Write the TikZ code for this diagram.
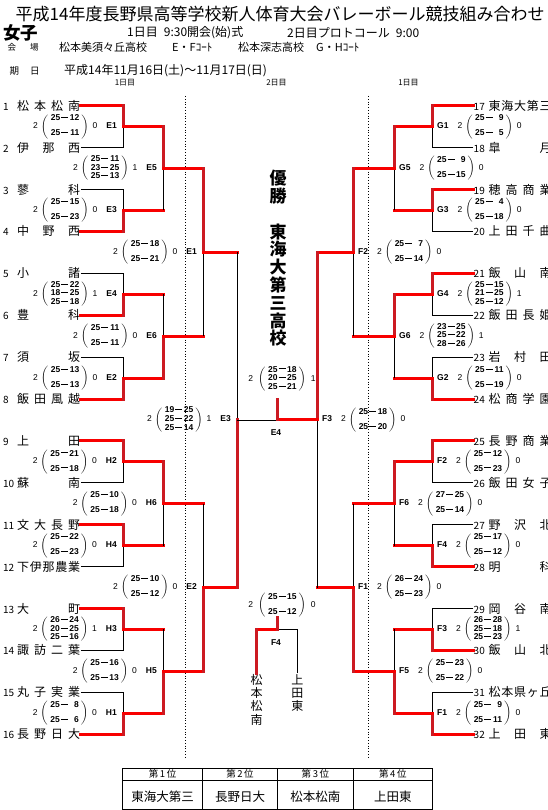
\documentclass[tikz,border=0pt]{standalone}
\usepackage{fontspec}
\setmainfont{Noto Sans CJK JP}
\newfontfamily\numfont{Liberation Sans}
\usetikzlibrary{positioning}
\definecolor{winred}{HTML}{F80000}
\definecolor{winvred}{HTML}{CC1A22}

% set scores
\newcommand{\pts}[2]{{\bfseries\makebox[10pt][r]{#1}\kern1pt\rule[2.7pt]{7pt}{0.9pt}\kern1pt\makebox[10pt][r]{#2}}}
\newcommand{\twoset}[2]{$\left(\begin{tabular}{@{\hspace{2pt}}c@{\hspace{2pt}}}#1\\[6.3pt]#2\end{tabular}\right)$}
\newcommand{\threeset}[3]{$\left(\begin{tabular}{@{\hspace{2pt}}c@{\hspace{2pt}}}#1\\#2\\#3\end{tabular}\right)$}
% spread a school name over its box
\def\spreadnext#1#2{#1\ifx\relax#2\else\hfill\expandafter\spreadnext\expandafter#2\fi}
\newcommand{\jname}[1]{\makebox[63pt][s]{\expandafter\spreadnext#1\relax}}
% first round: bout, upper team, lower team, winner (1 upper, 2 lower)
\newcommand{\teambout}[4]{%
  \ifnum#4=1 \draw[lose] (#3) -| (#1); \draw[win] (#2) -- (#2 -| #1); \draw[winv] (#2 -| #1) -- (#1);
  \else \draw[lose] (#2) -| (#1); \draw[win] (#3) -- (#3 -| #1); \draw[winv] (#3 -| #1) -- (#1); \fi}
% later rounds: bout, upper bout, lower bout, winner
\newcommand{\nextbout}[4]{%
  \draw[win] (#2) -- (#2 -| #1); \draw[win] (#3) -- (#3 -| #1);
  \ifnum#4=1 \draw[lose] (#3 -| #1) -- (#1); \draw[winv] (#2 -| #1) -- (#1);
  \else \draw[lose] (#2 -| #1) -- (#1); \draw[winv] (#3 -| #1) -- (#1); \fi}
% results: bout, label, sets won, sets lost, scores
\newcommand{\lres}[5]{\node[res, anchor=east] (s#1) at ([xshift=-6pt]#1) {#3\hspace{3pt}#5\hspace{4pt}#4\hspace{9pt}\textbf{#2}};}
\newcommand{\rres}[5]{\node[res, anchor=west] (s#1) at ([xshift=5pt]#1) {\textbf{#2}\hspace{9pt}#3\hspace{3pt}#5\hspace{4pt}#4};}

\begin{document}
\begin{tikzpicture}[x=1pt, y=-1pt,
  win/.style={draw=winred, line width=3pt, line cap=rect},
  winv/.style={draw=winvred, line width=3pt, line cap=rect},
  lose/.style={draw=black, line width=0.9pt},
  team/.style={inner xsep=0.5pt, inner ysep=0pt, font=\fontsize{12}{12}\selectfont},
  res/.style={inner sep=0pt, font=\numfont\fontsize{8.5}{8.7}\selectfont},
  lab/.style={inner sep=0pt, font=\numfont\bfseries\fontsize{8.5}{8.7}\selectfont},
  champ/.style={align=center, inner sep=0pt, font=\bfseries\fontsize{17}{17.8}\selectfont},
  vname/.style={align=center, inner sep=1pt, font=\fontsize{12}{13.3}\selectfont},
  head/.style={anchor=west, inner sep=0pt}]
\useasboundingbox (0,0) rectangle (548,810);

% header
\node[head, font=\fontsize{17}{17}\selectfont] (title) at (15.5,14) {平成14年度長野県高等学校新人体育大会バレーボール競技組み合わせ};
\node[head, font=\bfseries\fontsize{17.5}{17.5}\selectfont] (girls) at (3,33) {女子};
\node[head, font=\fontsize{12}{12}\selectfont] (day1) at (127,33) {1日目\hspace{6pt}9:30開会(始)式};
\node[head, font=\fontsize{12}{12}\selectfont] (day2) at (287,33) {2日目プロトコール\hspace{6pt}9:00};
\node[head, font=\fontsize{8.5}{8.5}\selectfont] (venue) at (7.5,47) {会\hspace{14pt}場};
\node[head, font=\fontsize{11}{11}\selectfont] (ven1) at (59,47) {松本美須々丘高校};
\node[head, font=\fontsize{11}{11}\selectfont] (crt1) at (172,47) {E・Fｺｰﾄ};
\node[head, font=\fontsize{11}{11}\selectfont] (ven2) at (238,47) {松本深志高校};
\node[head, font=\fontsize{11}{11}\selectfont] (crt2) at (316,47) {G・Hｺｰﾄ};
\node[head, font=\fontsize{9.5}{9.5}\selectfont] (dates) at (9.5,71) {期\hspace{11pt}日};
\node[head, font=\fontsize{12}{12}\selectfont] (dval) at (64,71) {平成14年11月16日(土)〜11月17日(日)};
\node[font=\fontsize{8}{8}\selectfont, inner sep=0pt] (dA) at (125,83) {1日目};
\node[font=\fontsize{8}{8}\selectfont, inner sep=0pt] (dB) at (276.5,83) {2日目};
\node[font=\fontsize{8}{8}\selectfont, inner sep=0pt] (dC) at (408.5,83) {1日目};

% day boundaries
\draw[dotted, line width=0.8pt] (185,96) -- (185,757);
\draw[dotted, line width=0.8pt] (368.7,96) -- (368.7,757);

% teams
\foreach \i/\nm in {1/松本松南, 2/伊那西, 3/蓼科, 4/中野西, 5/小諸, 6/豊科, 7/須坂, 8/飯田風越,
  9/上田, 10/蘇南, 11/文大長野, 12/下伊那農業, 13/大町, 14/諏訪二葉, 15/丸子実業, 16/長野日大}
  \node[team, anchor=west] (t\i) at (2.5,{105.7+(\i-1)*41.9}) {\makebox[14pt][l]{\fontsize{10}{10}\selectfont\i}\jname{\nm}};
\foreach \i/\nm in {17/東海大第三, 18/皐月, 19/穂高商業, 20/上田千曲, 21/飯山南, 22/飯田長姫, 23/岩村田, 24/松商学園,
  25/長野商業, 26/飯田女子, 27/野沢北, 28/明科, 29/岡谷南, 30/飯山北, 31/松本県ヶ丘, 32/上田東}
  \node[team, anchor=west] (t\i) at (473,{105.7+(\i-17)*41.9}) {\makebox[15pt][l]{\fontsize{10}{10}\selectfont\i}\jname{\nm}};

% bouts
\foreach \k in {1,...,8} {
  \coordinate (l1\k) at (123,{105.7+(2*\k-1.5)*41.9});
  \coordinate (r1\k) at (432,{105.7+(2*\k-1.5)*41.9}); }
\foreach \k in {1,...,4} {
  \coordinate (l2\k) at (163,{105.7+(4*\k-2.5)*41.9});
  \coordinate (r2\k) at (394,{105.7+(4*\k-2.5)*41.9}); }
\foreach \k in {1,2} {
  \coordinate (l3\k) at (203,{105.7+(8*\k-4.5)*41.9});
  \coordinate (r3\k) at (353,{105.7+(8*\k-4.5)*41.9}); }
\coordinate (l4) at (237,419.95);
\coordinate (r4) at (317,419.95);
\coordinate (fin) at (277.3,419.95);
\coordinate (finup) at (277.3,399.5);

% left half
\teambout{l11}{t1.east}{t2.east}{1}
\teambout{l12}{t3.east}{t4.east}{2}
\teambout{l13}{t5.east}{t6.east}{2}
\teambout{l14}{t7.east}{t8.east}{2}
\teambout{l15}{t9.east}{t10.east}{1}
\teambout{l16}{t11.east}{t12.east}{1}
\teambout{l17}{t13.east}{t14.east}{1}
\teambout{l18}{t15.east}{t16.east}{2}
\nextbout{l21}{l11}{l12}{1}
\nextbout{l22}{l13}{l14}{2}
\nextbout{l23}{l15}{l16}{1}
\nextbout{l24}{l17}{l18}{2}
\nextbout{l31}{l21}{l22}{1}
\nextbout{l32}{l23}{l24}{2}
\nextbout{l4}{l31}{l32}{2}

% right half
\teambout{r11}{t17.west}{t18.west}{1}
\teambout{r12}{t19.west}{t20.west}{1}
\teambout{r13}{t21.west}{t22.west}{1}
\teambout{r14}{t23.west}{t24.west}{2}
\teambout{r15}{t25.west}{t26.west}{1}
\teambout{r16}{t27.west}{t28.west}{2}
\teambout{r17}{t29.west}{t30.west}{2}
\teambout{r18}{t31.west}{t32.west}{2}
\nextbout{r21}{r11}{r12}{1}
\nextbout{r22}{r13}{r14}{1}
\nextbout{r23}{r15}{r16}{1}
\nextbout{r24}{r17}{r18}{2}
\nextbout{r31}{r21}{r22}{1}
\nextbout{r32}{r23}{r24}{2}
\nextbout{r4}{r31}{r32}{1}

% final
\draw[lose] (l4) -- (fin);
\draw[win] (r4) -- (fin);
\draw[winv] (fin) -- (finup);

% results
\lres{l11}{E1}{2}{0}{\twoset{\pts{25}{12}}{\pts{25}{11}}}
\lres{l12}{E3}{2}{0}{\twoset{\pts{25}{15}}{\pts{25}{23}}}
\lres{l13}{E4}{2}{1}{\threeset{\pts{25}{22}}{\pts{18}{25}}{\pts{25}{18}}}
\lres{l14}{E2}{2}{0}{\twoset{\pts{25}{13}}{\pts{25}{13}}}
\lres{l15}{H2}{2}{0}{\twoset{\pts{25}{21}}{\pts{25}{18}}}
\lres{l16}{H4}{2}{0}{\twoset{\pts{25}{22}}{\pts{25}{23}}}
\lres{l17}{H3}{2}{1}{\threeset{\pts{26}{24}}{\pts{20}{25}}{\pts{25}{16}}}
\lres{l18}{H1}{2}{0}{\twoset{\pts{25}{8}}{\pts{25}{6}}}
\lres{l21}{E5}{2}{1}{\threeset{\pts{25}{11}}{\pts{23}{25}}{\pts{25}{13}}}
\lres{l22}{E6}{2}{0}{\twoset{\pts{25}{11}}{\pts{25}{11}}}
\lres{l23}{H6}{2}{0}{\twoset{\pts{25}{10}}{\pts{25}{18}}}
\lres{l24}{H5}{2}{0}{\twoset{\pts{25}{16}}{\pts{25}{13}}}
\lres{l31}{E1}{2}{0}{\twoset{\pts{25}{18}}{\pts{25}{21}}}
\lres{l32}{E2}{2}{0}{\twoset{\pts{25}{10}}{\pts{25}{12}}}
\lres{l4}{E3}{2}{1}{\threeset{\pts{19}{25}}{\pts{25}{22}}{\pts{25}{14}}}

\rres{r11}{G1}{2}{0}{\twoset{\pts{25}{9}}{\pts{25}{5}}}
\rres{r12}{G3}{2}{0}{\twoset{\pts{25}{4}}{\pts{25}{18}}}
\rres{r13}{G4}{2}{1}{\threeset{\pts{25}{15}}{\pts{21}{25}}{\pts{25}{12}}}
\rres{r14}{G2}{2}{0}{\twoset{\pts{25}{11}}{\pts{25}{19}}}
\rres{r15}{F2}{2}{0}{\twoset{\pts{25}{12}}{\pts{25}{23}}}
\rres{r16}{F4}{2}{0}{\twoset{\pts{25}{17}}{\pts{25}{12}}}
\rres{r17}{F3}{2}{1}{\threeset{\pts{26}{28}}{\pts{25}{18}}{\pts{25}{23}}}
\rres{r18}{F1}{2}{0}{\twoset{\pts{25}{9}}{\pts{25}{11}}}
\rres{r21}{G5}{2}{0}{\twoset{\pts{25}{9}}{\pts{25}{15}}}
\rres{r22}{G6}{2}{1}{\threeset{\pts{23}{25}}{\pts{25}{22}}{\pts{28}{26}}}
\rres{r23}{F6}{2}{0}{\twoset{\pts{27}{25}}{\pts{25}{14}}}
\rres{r24}{F5}{2}{0}{\twoset{\pts{25}{23}}{\pts{25}{22}}}
\rres{r31}{F2}{2}{0}{\twoset{\pts{25}{7}}{\pts{25}{14}}}
\rres{r32}{F1}{2}{0}{\twoset{\pts{26}{24}}{\pts{25}{23}}}
\rres{r4}{F3}{2}{0}{\twoset{\pts{25}{18}}{\pts{25}{20}}}

\node[res] (sfin) at (282,379) {2\hspace{5pt}\threeset{\pts{25}{18}}{\pts{20}{25}}{\pts{25}{21}}\hspace{5pt}1};
\node[lab] (lfin) at (276,433) {E4};

% champion
\node[champ] (winhead) at (278,187) {優\\勝};
\node[champ] (winname) at (278,285) {東\\海\\大\\第\\三\\高\\校};

% third place
\coordinate (bronze) at (277.3,629.3);
\coordinate (bronzeup) at (277.3,617);
\node[vname, anchor=north] (p3a) at (256.7,673) {松\\本\\松\\南};
\node[vname, anchor=north] (p3b) at (297.3,673) {上\\田\\東};
\draw[lose] (p3b.north) |- (bronze);
\draw[win] (p3a.north |- bronze) -- (bronze);
\draw[winv] (p3a.north) -- (p3a.north |- bronze);
\draw[winv] (bronze) -- (bronzeup);
\node[res] (sbronze) at (282,605) {2\hspace{5pt}\twoset{\pts{25}{15}}{\pts{25}{12}}\hspace{5pt}0};
\node[lab] (lbronze) at (276,643) {F4};

% ranking table
\draw[line width=0.8pt] (122.7,768) rectangle (432.3,809.3);
\draw[line width=0.8pt] (122.7,780) -- (432.3,780);
\foreach \x in {202.5,277.5,353.3} \draw[line width=0.8pt] (\x,768) -- (\x,809.3);
\foreach \x/\rk/\nm [count=\j] in {162.6/第\,1\,位/東海大第三, 240/第\,2\,位/長野日大, 315.4/第\,3\,位/松本松南, 392.8/第\,4\,位/上田東} {
  \node[font=\fontsize{9.5}{9.5}\selectfont, inner sep=0pt] (rk\j) at (\x,774) {\rk};
  \node[font=\fontsize{12.5}{12.5}\selectfont, inner sep=0pt] (rn\j) at (\x,796.5) {\nm}; }
\end{tikzpicture}
\end{document}
